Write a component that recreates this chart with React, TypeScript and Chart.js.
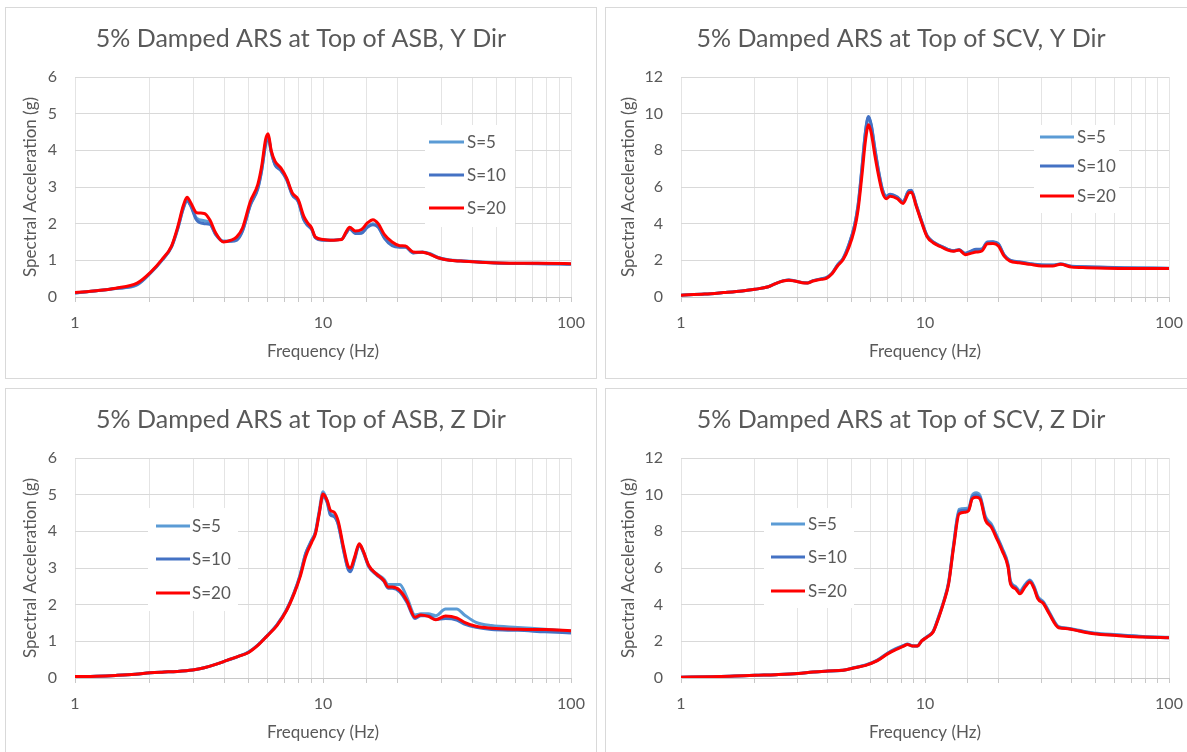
import React, { useEffect, useRef } from "react";
import { Chart, registerables } from "chart.js";

Chart.register(...registerables);

// ---------- DATA ----------
const seriesLabels = ["S=5", "S=10", "S=20"];

// Panel 1: ASB, Y Dir
const asbYFreq = [1, 1.22, 1.46, 1.78, 2.02, 2.24, 2.45, 2.6, 2.73, 2.83, 2.93, 3.09, 3.32, 3.5, 3.69, 3.96, 4.26, 4.49, 4.74, 5.09, 5.46, 5.66, 5.87, 6.01, 6.18, 6.41, 6.76, 7.13, 7.52, 7.94, 8.37, 8.67, 8.99, 9.31, 10, 10.7, 11.9, 12.4, 12.8, 13.5, 14.3, 15.1, 15.9, 16.7, 17.7, 19, 20.4, 21.5, 23.1, 25.2, 27.1, 29.1, 32.4, 36, 43, 51.4, 73.4, 100];
const asbYS5 = [0.11, 0.17, 0.23, 0.33, 0.66, 1.0, 1.37, 1.88, 2.42, 2.65, 2.5, 2.15, 2.08, 2.02, 1.72, 1.52, 1.53, 1.57, 1.82, 2.5, 2.98, 3.47, 4.2, 4.38, 3.97, 3.62, 3.47, 3.22, 2.8, 2.62, 2.12, 1.97, 1.86, 1.62, 1.56, 1.55, 1.58, 1.75, 1.87, 1.74, 1.76, 1.92, 2.0, 1.92, 1.62, 1.42, 1.37, 1.37, 1.21, 1.23, 1.18, 1.08, 1.01, 0.99, 0.96, 0.93, 0.92, 0.9];
const asbYS10 = [0.11, 0.17, 0.23, 0.34, 0.66, 1.0, 1.37, 1.88, 2.4, 2.62, 2.48, 2.1, 2.0, 1.98, 1.7, 1.52, 1.52, 1.55, 1.8, 2.5, 2.95, 3.45, 4.15, 4.35, 3.95, 3.6, 3.45, 3.2, 2.78, 2.6, 2.1, 1.95, 1.85, 1.62, 1.55, 1.55, 1.58, 1.74, 1.86, 1.73, 1.74, 1.9, 1.97, 1.9, 1.6, 1.4, 1.36, 1.36, 1.2, 1.22, 1.17, 1.07, 1.0, 0.98, 0.95, 0.92, 0.91, 0.89];
const asbYS20 = [0.12, 0.17, 0.24, 0.38, 0.68, 1.02, 1.39, 1.93, 2.48, 2.72, 2.57, 2.3, 2.28, 2.1, 1.75, 1.5, 1.55, 1.64, 1.89, 2.6, 3.07, 3.57, 4.3, 4.45, 4.0, 3.7, 3.52, 3.25, 2.84, 2.66, 2.2, 2.02, 1.89, 1.64, 1.57, 1.55, 1.57, 1.78, 1.9, 1.8, 1.84, 2.02, 2.11, 2.0, 1.7, 1.5, 1.4, 1.39, 1.23, 1.22, 1.16, 1.07, 1.0, 0.98, 0.95, 0.93, 0.92, 0.91];

// Panel 2: SCV, Y Dir
const scvYFreq = [1, 1.25, 1.49, 1.78, 2.01, 2.28, 2.44, 2.62, 2.77, 2.92, 3.13, 3.3, 3.48, 3.74, 3.94, 4.16, 4.38, 4.62, 4.87, 5.14, 5.32, 5.51, 5.71, 5.87, 6.02, 6.24, 6.46, 6.7, 6.94, 7.19, 7.71, 8.13, 8.58, 8.79, 9.2, 9.7, 10.2, 10.8, 11.6, 12.4, 13.1, 13.8, 14.6, 15.4, 16.2, 17.1, 18, 19, 20, 21.1, 22.3, 24.3, 27, 30.1, 33.4, 35.9, 39.9, 45.9, 65.4, 100];
const scvYS5 = [0.1, 0.16, 0.24, 0.33, 0.42, 0.56, 0.73, 0.88, 0.93, 0.88, 0.79, 0.77, 0.89, 0.99, 1.06, 1.3, 1.74, 2.1, 2.82, 3.88, 5.0, 6.95, 9.05, 9.8, 9.35, 8.0, 6.8, 5.82, 5.48, 5.58, 5.43, 5.18, 5.78, 5.8, 5.02, 4.1, 3.33, 3.0, 2.77, 2.6, 2.52, 2.58, 2.37, 2.48, 2.58, 2.6, 2.98, 3.0, 2.88, 2.28, 2.0, 1.9, 1.8, 1.74, 1.73, 1.8, 1.67, 1.64, 1.58, 1.56];
const scvYS10 = [0.1, 0.16, 0.24, 0.33, 0.42, 0.56, 0.73, 0.88, 0.93, 0.88, 0.79, 0.77, 0.89, 0.99, 1.06, 1.3, 1.75, 2.12, 2.85, 3.9, 5.05, 7.0, 9.1, 9.85, 9.4, 8.05, 6.85, 5.85, 5.5, 5.6, 5.45, 5.2, 5.8, 5.82, 5.05, 4.12, 3.35, 3.0, 2.78, 2.6, 2.52, 2.58, 2.38, 2.5, 2.6, 2.62, 3.0, 3.02, 2.9, 2.3, 2.02, 1.92, 1.82, 1.75, 1.74, 1.8, 1.68, 1.65, 1.6, 1.57];
const scvYS20 = [0.1, 0.16, 0.24, 0.33, 0.42, 0.56, 0.73, 0.87, 0.91, 0.87, 0.78, 0.76, 0.87, 0.96, 1.02, 1.27, 1.69, 2.05, 2.69, 3.69, 4.77, 6.59, 8.6, 9.4, 8.95, 7.68, 6.59, 5.68, 5.36, 5.5, 5.36, 5.1, 5.68, 5.72, 4.96, 4.05, 3.29, 2.96, 2.74, 2.56, 2.49, 2.56, 2.31, 2.38, 2.45, 2.51, 2.9, 2.92, 2.78, 2.23, 1.96, 1.87, 1.78, 1.69, 1.69, 1.78, 1.63, 1.6, 1.56, 1.56];

// Panel 3: ASB, Z Dir
const asbZFreq = [1, 1.22, 1.46, 1.75, 2.01, 2.24, 2.58, 2.98, 3.32, 3.69, 4.1, 4.56, 4.99, 5.46, 5.96, 6.52, 7.13, 7.65, 8.08, 8.52, 9, 9.32, 9.65, 10, 10.4, 10.7, 11.1, 11.5, 12.1, 12.6, 12.9, 13.4, 14, 14.5, 15.3, 16.4, 17.6, 18.3, 19, 20.4, 21.8, 23.5, 24.8, 26.6, 28.5, 31.2, 34.6, 37.2, 41.4, 47.8, 61, 78.4, 100];
const asbZS5 = [0.04, 0.05, 0.07, 0.1, 0.14, 0.16, 0.18, 0.22, 0.28, 0.37, 0.48, 0.59, 0.7, 0.9, 1.16, 1.45, 1.86, 2.33, 2.8, 3.4, 3.76, 3.98, 4.55, 5.08, 4.82, 4.5, 4.42, 4.22, 3.5, 3.0, 2.92, 3.25, 3.64, 3.46, 3.05, 2.85, 2.7, 2.55, 2.55, 2.55, 2.2, 1.72, 1.75, 1.75, 1.7, 1.88, 1.88, 1.72, 1.52, 1.43, 1.38, 1.33, 1.28];
const asbZS10 = [0.04, 0.05, 0.07, 0.1, 0.14, 0.16, 0.18, 0.22, 0.28, 0.37, 0.48, 0.59, 0.7, 0.9, 1.16, 1.45, 1.86, 2.33, 2.8, 3.4, 3.75, 3.97, 4.5, 4.95, 4.78, 4.45, 4.4, 4.2, 3.48, 2.98, 2.9, 3.22, 3.62, 3.45, 3.03, 2.82, 2.64, 2.45, 2.45, 2.35, 2.06, 1.62, 1.7, 1.7, 1.6, 1.62, 1.58, 1.47, 1.38, 1.32, 1.3, 1.26, 1.23];
const asbZS20 = [0.04, 0.05, 0.07, 0.1, 0.14, 0.16, 0.18, 0.22, 0.28, 0.37, 0.48, 0.59, 0.69, 0.89, 1.15, 1.43, 1.84, 2.3, 2.75, 3.32, 3.7, 3.93, 4.47, 5.02, 4.84, 4.58, 4.52, 4.29, 3.57, 3.07, 3.0, 3.29, 3.66, 3.48, 3.07, 2.84, 2.66, 2.48, 2.48, 2.39, 2.11, 1.66, 1.72, 1.68, 1.59, 1.69, 1.64, 1.52, 1.41, 1.36, 1.33, 1.32, 1.29];

// Panel 4: SCV, Z Dir
const scvZFreq = [1, 1.34, 1.66, 2.01, 2.44, 3.02, 3.48, 4.01, 4.62, 5.14, 5.71, 6.35, 7.06, 7.58, 8.13, 8.48, 8.88, 9.3, 9.7, 10.2, 10.8, 11.4, 12, 12.5, 13.1, 13.8, 14.6, 15.1, 15.6, 16.2, 16.8, 17.7, 18.7, 19.7, 20.7, 21.9, 22.4, 23.5, 24.5, 25.7, 26.9, 28, 29, 30.6, 32.3, 35.3, 38.5, 42.8, 49.3, 61, 78.1, 100];
const scvZS5 = [0.04, 0.07, 0.11, 0.15, 0.18, 0.24, 0.33, 0.38, 0.42, 0.57, 0.71, 0.96, 1.38, 1.6, 1.76, 1.85, 1.76, 1.75, 2.04, 2.26, 2.55, 3.4, 4.3, 5.25, 7.3, 9.2, 9.25, 9.28, 9.95, 10.1, 9.95, 8.8, 8.4, 7.75, 7.1, 6.2, 5.3, 5.0, 4.75, 5.1, 5.35, 5.0, 4.45, 4.15, 3.6, 2.8, 2.72, 2.6, 2.46, 2.36, 2.27, 2.22];
const scvZS10 = [0.04, 0.07, 0.11, 0.15, 0.18, 0.24, 0.33, 0.38, 0.42, 0.56, 0.7, 0.95, 1.36, 1.58, 1.75, 1.84, 1.75, 1.75, 2.03, 2.25, 2.53, 3.36, 4.27, 5.2, 7.22, 9.1, 9.15, 9.2, 9.85, 9.98, 9.86, 8.7, 8.3, 7.68, 7.03, 6.12, 5.22, 4.94, 4.68, 5.04, 5.3, 4.94, 4.38, 4.1, 3.55, 2.77, 2.7, 2.58, 2.43, 2.34, 2.25, 2.2];
const scvZS20 = [0.04, 0.07, 0.11, 0.15, 0.18, 0.24, 0.33, 0.38, 0.42, 0.56, 0.69, 0.93, 1.33, 1.54, 1.72, 1.83, 1.74, 1.74, 2.02, 2.23, 2.51, 3.32, 4.23, 5.14, 7.13, 8.95, 9.04, 9.13, 9.77, 9.86, 9.77, 8.6, 8.22, 7.59, 6.95, 6.05, 5.14, 4.87, 4.59, 4.96, 5.23, 4.87, 4.32, 4.05, 3.5, 2.74, 2.69, 2.56, 2.41, 2.32, 2.23, 2.2];

// Axis ticks
const xMajorTicks = [1, 10, 100];

// ---------- STYLE ----------
const FONT = "Lato, 'Open Sans', 'DejaVu Sans', sans-serif";
const TEXT = "#595959";
const COLORS = ["#5B9BD5", "#4472C4", "#FF0000"];
const DRAW_ORDER = [2, 1, 0]; // S=20 drawn on top

type LegendLayout = {
  box: [number, number, number, number];
  x1: number;
  x2: number;
  tx: number;
  rows: number[];
};

const boxLegendPlugin = {
  id: "boxLegend",
  beforeDatasetsDraw(chart: any, _args: any, opts: any) {
    const lg: LegendLayout = opts && opts.layout;
    if (!lg) return;
    const ctx = chart.ctx;
    ctx.save();
    ctx.fillStyle = "#ffffff";
    ctx.fillRect(lg.box[0], lg.box[1], lg.box[2], lg.box[3]);
    chart.data.datasets.forEach((ds: any, i: number) => {
      const y = lg.rows[i];
      ctx.strokeStyle = ds.borderColor;
      ctx.lineWidth = 3;
      ctx.beginPath();
      ctx.moveTo(lg.x1, y);
      ctx.lineTo(lg.x2, y);
      ctx.stroke();
      ctx.fillStyle = TEXT;
      ctx.font = `17px ${FONT}`;
      ctx.textBaseline = "middle";
      ctx.textAlign = "left";
      ctx.fillText(ds.label, lg.tx, y + 1);
    });
    ctx.restore();
  },
};

type PanelProps = {
  title: string;
  freq: number[];
  series: number[][];
  yMax: number;
  yStep: number;
  yAxisWidth: number;
  yTitleOffset: number;
  rightGap: number;
  legend: LegendLayout;
  left: number;
  top: number;
};

function Panel(p: PanelProps) {
  const ref = useRef<HTMLCanvasElement | null>(null);
  useEffect(() => {
    if (!ref.current) return;
    const chart = new Chart(ref.current, {
      type: "line",
      data: {
        datasets: p.series.map((vals, i) => ({
          label: seriesLabels[i],
          data: p.freq.map((f, k) => ({ x: f, y: vals[k] })),
          borderColor: COLORS[i],
          backgroundColor: COLORS[i],
          borderWidth: 3,
          pointRadius: 0,
          order: DRAW_ORDER[i],
          cubicInterpolationMode: "monotone" as const,
          fill: false,
        })),
      },
      plugins: [boxLegendPlugin],
      options: {
        animation: false,
        responsive: false,
        maintainAspectRatio: false,
        events: [],
        layout: {
          autoPadding: false,
          padding: { left: 0, right: 0, top: 0, bottom: 0 },
        },
        plugins: {
          legend: { display: false },
          tooltip: { enabled: false },
          title: {
            display: true,
            text: p.title,
            color: TEXT,
            font: { family: FONT, size: 25, weight: "normal", lineHeight: 1.2 },
            padding: { top: 16, bottom: 23 },
          },
          boxLegend: { layout: p.legend },
        } as any,
        scales: {
          x: {
            type: "logarithmic",
            min: 1,
            max: 100,
            afterFit: (s: any) => {
              s.height = 75;
            },
            grid: {
              color: "#E4E4E4",
              lineWidth: 1,
              drawTicks: true,
              tickLength: 5,
              tickColor: "#C8C8C8",
            },
            border: { display: true, color: "#C8C8C8", width: 1 },
            ticks: {
              autoSkip: false,
              maxRotation: 0,
              color: TEXT,
              padding: 11,
              font: { family: FONT, size: 16 },
              callback: (v: any) => (xMajorTicks.includes(Number(v)) ? String(v) : ""),
            },
            title: {
              display: true,
              text: "Frequency (Hz)",
              color: TEXT,
              font: { family: FONT, size: 17, lineHeight: 1.2 },
              padding: { top: 0, bottom: 9.8 },
            },
          },
          y: {
            type: "linear",
            min: 0,
            max: p.yMax,
            afterFit: (s: any) => {
              s.width = p.yAxisWidth;
            },
            grid: { color: "#D9D9D9", lineWidth: 1, drawTicks: false },
            border: { display: false },
            ticks: {
              stepSize: p.yStep,
              color: TEXT,
              padding: 18,
              font: { family: FONT, size: 16 },
            },
            title: {
              display: true,
              text: "Spectral Acceleration (g)",
              color: TEXT,
              font: { family: FONT, size: 17, lineHeight: 1.2 },
              padding: { top: p.yTitleOffset, bottom: 0 },
            },
          },
          // empty spacer on the right so the title is centred on the whole chart
          spacer: {
            type: "linear",
            position: "right",
            min: 0,
            max: 1,
            afterFit: (s: any) => {
              s.width = p.rightGap;
            },
            grid: { display: false, drawTicks: false },
            border: { display: false },
            ticks: { display: false },
          },
        },
      } as any,
    });
    return () => chart.destroy();
  }, []);

  return (
    <div
      style={{
        position: "absolute",
        left: p.left,
        top: p.top,
        width: 590,
        height: 370,
        border: "1px solid #D9D9D9",
        background: "#fff",
      }}
    >
      <canvas ref={ref} width={590} height={364} style={{ display: "block", width: 590, height: 364 }} />
    </div>
  );
}

export default function App() {
  return (
    <div
      style={{
        position: "fixed",
        left: 0,
        top: 0,
        width: 1187,
        height: 752,
        overflow: "hidden",
        background: "#fff",
      }}
    >
      <Panel
        title="5% Damped ARS at Top of ASB, Y Dir"
        freq={asbYFreq}
        series={[asbYS5, asbYS10, asbYS20]}
        yMax={6}
        yStep={1}
        yAxisWidth={69}
        yTitleOffset={14.8}
        rightGap={25}
        legend={{ box: [419, 117, 90, 102], x1: 423, x2: 458, tx: 461, rows: [134, 167, 200] }}
        left={5}
        top={7}
      />
      <Panel
        title="5% Damped ARS at Top of SCV, Y Dir"
        freq={scvYFreq}
        series={[scvYS5, scvYS10, scvYS20]}
        yMax={12}
        yStep={2}
        yAxisWidth={75}
        yTitleOffset={12.3}
        rightGap={27}
        legend={{ box: [428, 117, 85, 88], x1: 434, x2: 468, tx: 471, rows: [129, 158, 188] }}
        left={605}
        top={7}
      />
      <Panel
        title="5% Damped ARS at Top of ASB, Z Dir"
        freq={asbZFreq}
        series={[asbZS5, asbZS10, asbZS20]}
        yMax={6}
        yStep={1}
        yAxisWidth={69}
        yTitleOffset={14.8}
        rightGap={25}
        legend={{ box: [142, 119, 90, 103], x1: 150, x2: 184, tx: 186, rows: [137, 170, 204] }}
        left={5}
        top={388}
      />
      <Panel
        title="5% Damped ARS at Top of SCV, Z Dir"
        freq={scvZFreq}
        series={[scvZS5, scvZS10, scvZS20]}
        yMax={12}
        yStep={2}
        yAxisWidth={75}
        yTitleOffset={12.3}
        rightGap={27}
        legend={{ box: [158, 119, 90, 100], x1: 165, x2: 199, tx: 202, rows: [135, 168, 202] }}
        left={605}
        top={388}
      />
    </div>
  );
}
